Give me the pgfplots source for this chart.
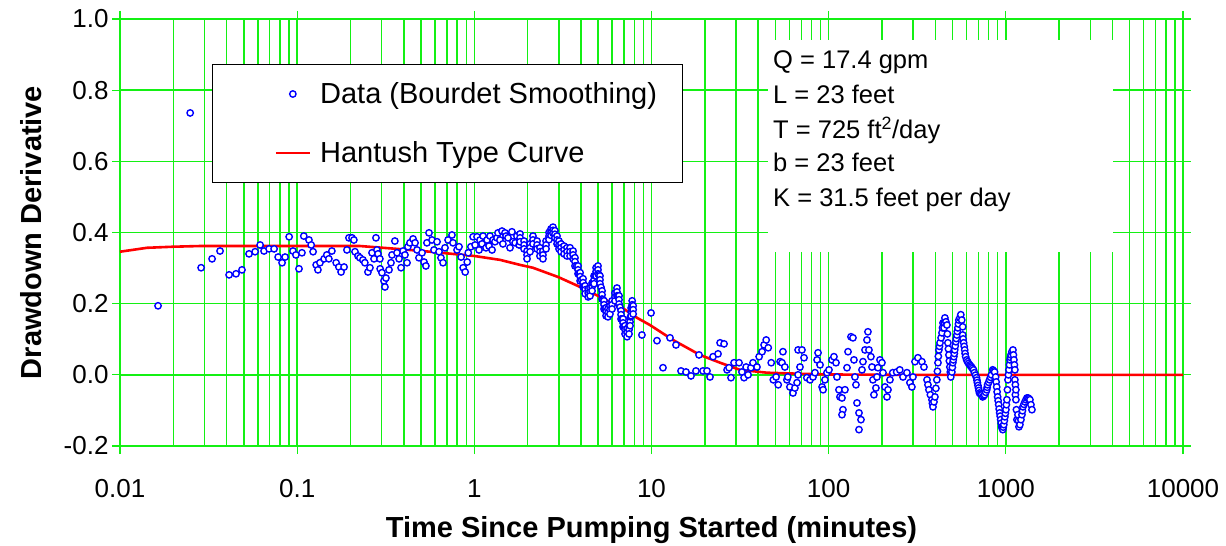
\documentclass[border=0pt]{standalone}
\usepackage{fontspec}
\setmainfont{Liberation Sans}
\usepackage{pgfplots}
\pgfplotsset{compat=1.18}
\usepackage{pgfplotstable}
\definecolor{gridgreen}{RGB}{20,240,20}
\definecolor{myblue}{RGB}{0,0,255}
\pgfplotstableread{
t v
0.0164 0.194
0.0249 0.736
0.0287 0.301
0.0331 0.326
0.0367 0.348
0.0413 0.281
0.0452 0.284
0.0488 0.295
0.0535 0.340
0.0579 0.346
0.0618 0.365
0.0650 0.348
0.0694 0.354
0.0741 0.354
0.0781 0.331
0.0822 0.315
0.0855 0.331
0.0901 0.388
0.0947 0.348
0.0984 0.337
0.1024 0.298
0.1064 0.343
0.109 0.390
0.1166 0.379
0.120 0.365
0.123 0.346
0.128 0.309
0.131 0.295
0.1345 0.315
0.142 0.326
0.147 0.337
0.151 0.326
0.157 0.348
0.166 0.315
0.172 0.303
0.177 0.289
0.184 0.303
0.191 0.351
0.196 0.385
0.204 0.385
0.209 0.379
0.212 0.346
0.2205 0.334
0.226 0.329
0.235 0.323
0.241 0.315
0.251 0.289
0.2575 0.301
0.2645 0.343
0.2715 0.326
0.2785 0.385
0.282 0.351
0.286 0.340
0.293 0.326
0.294 0.298
0.301 0.287
0.309 0.264
0.313 0.247
0.317 0.272
0.330 0.295
0.3385 0.315
0.343 0.337
0.356 0.376
0.366 0.343
0.376 0.326
0.386 0.301
0.396 0.348
0.406 0.337
0.417 0.315
0.422 0.360
0.433 0.371
0.451 0.382
0.463 0.371
0.475 0.351
0.487 0.329
0.507 0.343
0.520 0.317
0.533 0.306
0.540 0.371
0.555 0.399
0.577 0.379
0.592 0.351
0.616 0.374
0.632 0.346
0.648 0.329
0.666 0.315
0.683 0.357
0.711 0.379
0.748 0.393
0.758 0.371
0.799 0.351
0.820 0.360
0.842 0.331
0.865 0.301
0.888 0.289
0.912 0.317
0.924 0.343
0.956 0.360
0.984 0.388
1.010 0.365
1.036 0.388
1.063 0.351
1.077 0.379
1.105 0.368
1.12 0.390
1.164 0.357
1.18 0.379
1.21 0.362
1.226 0.390
1.259 0.351
1.275 0.379
1.307 0.374
1.342 0.385
1.36 0.399
1.395 0.379
1.433 0.404
1.45 0.368
1.49 0.399
1.51 0.390
1.55 0.385
1.59 0.357
1.63 0.402
1.65 0.374
1.70 0.371
1.74 0.390
1.79 0.365
1.811 0.396
1.811 0.385
1.811 0.374
1.908 0.376
1.908 0.365
1.908 0.354
1.984 0.348
1.984 0.337
1.984 0.326
2.063 0.368
2.063 0.357
2.063 0.346
2.143 0.390
2.143 0.379
2.143 0.368
2.26 0.376
2.26 0.365
2.26 0.354
2.347 0.357
2.347 0.346
2.347 0.334
2.44 0.348
2.44 0.337
2.44 0.326
2.54 0.376
2.54 0.365
2.54 0.354
2.64 0.400
2.64 0.390
2.64 0.380
2.71 0.410
2.71 0.401
2.71 0.392
2.78 0.415
2.78 0.406
2.78 0.398
2.85 0.405
2.85 0.395
2.85 0.385
2.93 0.390
2.93 0.379
2.93 0.368
3.005 0.376
3.005 0.365
3.005 0.354
3.085 0.368
3.085 0.357
3.085 0.346
3.21 0.362
3.21 0.351
3.21 0.340
3.335 0.357
3.335 0.346
3.335 0.334
3.47 0.357
3.47 0.346
3.47 0.334
3.61 0.348
3.61 0.337
3.61 0.326
3.70 0.329
3.70 0.318
3.70 0.306
3.78 0.306
3.85 0.306
3.85 0.295
3.85 0.284
3.90 0.285
3.955 0.287
3.955 0.276
3.955 0.264
4.03 0.267
4.11 0.270
4.11 0.259
4.11 0.247
4.17 0.249
4.22 0.250
4.22 0.239
4.22 0.228
4.39 0.242
4.39 0.230
4.39 0.219
4.50 0.244
4.50 0.233
4.50 0.222
4.62 0.258
4.62 0.247
4.62 0.236
4.68 0.257
4.74 0.278
4.74 0.267
4.74 0.256
4.80 0.278
4.865 0.301
4.865 0.290
4.865 0.278
4.99 0.306
4.99 0.295
4.99 0.284
5.05 0.281
5.12 0.278
5.12 0.267
5.12 0.256
5.19 0.246
5.26 0.236
5.26 0.225
5.26 0.213
5.33 0.211
5.395 0.208
5.395 0.197
5.395 0.185
5.47 0.187
5.54 0.188
5.54 0.177
5.54 0.166
5.68 0.185
5.68 0.174
5.68 0.163
5.83 0.194
5.83 0.183
5.83 0.171
5.99 0.208
5.99 0.197
5.99 0.185
6.22 0.230
6.22 0.219
6.22 0.208
6.385 0.244
6.385 0.233
6.385 0.222
6.47 0.222
6.56 0.222
6.56 0.211
6.56 0.199
6.64 0.190
6.73 0.180
6.73 0.169
6.73 0.157
6.82 0.157
6.91 0.157
6.91 0.146
6.91 0.135
7.0 0.136
7.09 0.138
7.09 0.127
7.09 0.115
7.28 0.129
7.28 0.118
7.28 0.107
7.47 0.138
7.47 0.127
7.47 0.115
7.57 0.160
7.57 0.149
7.57 0.138
7.62 0.163
7.675 0.188
7.675 0.177
7.675 0.166
7.73 0.187
7.78 0.208
7.78 0.197
7.78 0.185
7.88 0.194
7.88 0.183
7.88 0.171
8.83 0.112
9.94 0.174
10.74 0.096
11.61 0.020
12.72 0.104
13.75 0.084
14.67 0.011
15.66 0.008
16.71 -0.003
17.82 0.011
18.54 0.056
19.53 0.011
20.57 0.011
21.39 -0.006
22.26 0.051
23.74 0.059
24.38 0.090
25.68 0.087
26.70 0.014
27.4 0.020
28.1 -0.008
29.25 0.034
31.2 0.034
32.4 0.008
33.3 -0.008
34.2 0.022
35.1 0.000
36.4 0.020
37.4 0.034
39.4 0.022
40.5 0.051
42.1 0.065
43.2 0.084
44.4 0.098
45.6 0.076
47.4 0.034
48.7 -0.014
50.5 -0.006
51.9 -0.028
53.2 0.037
54.5 0.034
55.2 0.065
56.6 0.022
58.1 -0.014
58.8 -0.006
60.4 -0.034
62.9 -0.051
64.5 -0.037
66.3 -0.022
67.2 0.070
67.2 0.000
68.9 0.022
70.7 0.070
72.6 0.048
75.3 -0.008
78.5 -0.014
81.6 -0.006
83.7 0.006
86.0 0.042
87.1 0.062
89.4 0.028
91.8 -0.034
93.0 -0.042
95.3 -0.014
97.8 0.006
100.4 0.014
104.4 0.042
107.1 0.051
110 0.034
111.4 -0.006
114.3 -0.042
115.8 -0.062
118.9 -0.065
120.4 -0.098
118.9 -0.112
123.6 -0.042
126.9 0.020
128.6 0.065
133.6 0.107
137.1 0.104
138.9 0.042
140.7 -0.006
142.6 -0.028
144.5 -0.079
148.3 -0.107
148.3 -0.154
152.2 -0.126
154.2 0.014
156.2 0.037
160.3 0.070
164.5 0.098
166.6 0.121
168.8 0.070
173.2 0.051
175.5 0.022
177.8 -0.014
180.1 -0.056
184.8 -0.037
187.3 -0.006
189.8 0.020
194.8 0.042
199.9 0.034
202.6 0.006
207.9 -0.034
213.4 -0.062
216.2 -0.042
221.8 -0.014
230 0.006
242 0.008
252 0.014
262.7 -0.006
276.5 0.006
287.5 -0.022
295 -0.034
299 -0.006
307 0.037
319 0.048
336 0.037
345 0.022
359 -0.014
363.5 -0.028
368 -0.042
375 -0.056
383 -0.070
385 -0.080
388 -0.090
393 -0.076
398 -0.062
403 -0.038
408 -0.014
411 0.010
414 0.034
416 0.052
419 0.070
422 0.080
425 0.090
431 0.104
436 0.118
439 0.132
442 0.146
448 0.132
450 0.146
453 0.160
459 0.149
465 0.140
468 0.115
471 0.090
474 0.073
477 0.056
480 0.039
483 0.022
486 0.008
489 -0.006
496 0.008
499 0.021
502 0.034
505 0.042
509 0.051
512 0.060
515 0.070
518 0.081
522 0.093
525 0.102
529 0.112
532 0.122
536 0.132
540 0.143
543 0.154
550 0.160
557 0.169
564 0.154
571 0.135
571 0.112
574 0.101
578 0.090
582 0.080
586 0.070
589 0.060
593 0.051
601 0.042
608 0.037
616 0.032
625 0.028
632 0.025
640 0.022
648 0.018
657 0.014
665 0.006
674 -0.001
683 -0.008
687 -0.015
691 -0.022
696 -0.030
701 -0.037
705 -0.044
710 -0.051
720 -0.054
730 -0.056
740 -0.062
750 -0.059
759 -0.056
770 -0.049
780 -0.042
785 -0.035
789 -0.028
800 -0.021
810 -0.014
820 -0.007
830 0.000
843 0.014
853 0.011
864 0.008
876 -0.006
882 -0.020
888 -0.034
893 -0.048
899 -0.062
905 -0.073
911 -0.084
917 -0.096
923 -0.107
929 -0.116
935 -0.126
941 -0.136
948 -0.146
954 -0.150
961 -0.154
967 -0.147
974 -0.140
981 -0.129
988 -0.118
994 -0.108
1001 -0.098
1007 -0.084
1014 -0.070
1021 -0.042
1028 -0.014
1034 0.000
1041 0.014
1048 0.028
1055 0.042
1062 0.049
1069 0.056
1082 0.065
1097 0.070
1104 0.056
1111 0.042
1118 0.028
1125 0.014
1125 -0.014
1132 -0.028
1132 -0.056
1140 -0.070
1140 -0.042
1147 -0.098
1155 -0.126
1170 -0.112
1178 -0.129
1186 -0.146
1201 -0.140
1217 -0.126
1233 -0.112
1241 -0.101
1249 -0.090
1265 -0.083
1282 -0.076
1299 -0.070
1316 -0.065
1333 -0.065
1350 -0.067
1368 -0.070
1386 -0.084
1404 -0.098
}\datatab
\pgfplotstableread{
t v
0.01 0.346
0.0142 0.357
0.0199 0.360
0.0283 0.362
0.0542 0.362
0.1034 0.362
0.226 0.362
0.366 0.354
0.562 0.346
1.0 0.334
1.40 0.323
1.81 0.309
2.14 0.301
2.97 0.275
3.955 0.247
5.12 0.219
7.09 0.183
8.30 0.160
9.80 0.140
13.22 0.098
18.77 0.056
24.4 0.034
31.6 0.014
44.9 0.006
68.9 0.003
100 0.001
252 0.0
10000 0.0
}\hantush
\begin{document}
\begin{tikzpicture}
\begin{axis}[
  name=ax,
  scale only axis, width=1063bp, height=427bp,
  xmode=log, xmin=0.01, xmax=10000, ymin=-0.2, ymax=1.0,
  xtick={0.01,0.1,1,10,100,1000,10000},
  xticklabels={0.01,0.1,1,10,100,1000,10000},
  minor xtick={},
  extra x ticks={0.02,0.03,0.04,0.05,0.06,0.07,0.08,0.09,
                 0.2,0.3,0.4,0.5,0.6,0.7,0.8,0.9,
                 2,3,4,5,6,7,8,9,
                 20,30,40,50,60,70,80,90,
                 200,300,400,500,600,700,800,900,
                 2000,3000,4000,5000,6000,7000,8000,9000},
  extra x tick labels={},
  extra x tick style={major tick length=0bp, xmajorgrids=true},
  ytick={-0.2,0,0.2,0.4,0.6,0.8,1.0},
  y tick label style={/pgf/number format/.cd, fixed, fixed zerofill, precision=1, assume math mode=true},
  tick label style={font=\fontsize{26bp}{30bp}\selectfont},
  x tick label style={yshift=-22bp},
  xmajorgrids, xminorgrids=false, ymajorgrids,
  major grid style={draw=gridgreen, line width=1.4bp},
  axis line style={gridgreen, line width=1.4bp},
  tick style={gridgreen, line width=1.2bp},
  tick align=outside, major tick length=8bp, minor tick length=0bp,
  xlabel={Time Since Pumping Started (minutes)},
  ylabel={Drawdown Derivative},
  label style={font=\bfseries\fontsize{29bp}{34bp}\selectfont},
  xlabel style={at={(axis description cs:0.5,-0.197)}, anchor=center},
  ylabel style={at={(axis description cs:-0.0837,0.5)}, anchor=center},
  legend style={at={(0.0866,0.8946)}, anchor=north west, draw=black, line width=1bp, fill=white,
    inner xsep=25bp, inner ysep=15bp, row sep=30bp, column sep=9bp,
    font=\fontsize{29bp}{34bp}\selectfont,
    nodes={inner sep=0pt, text height=24bp, text depth=5bp}},
  legend cell align=left,
  legend image code/.code={\path (0bp,0bp); \draw[mark repeat=2,mark phase=2,#1] plot coordinates {(37bp,0bp)(54bp,0bp)(71bp,0bp)};},
]
\addplot[only marks, mark=*, mark size=3.2bp, mark options={draw=myblue, fill=white, line width=1.4bp}] table[x=t,y=v]{\datatab};
\addplot[red, line width=2.6bp, no marks] table[x=t,y=v]{\hantush};
\legend{Data (Bourdet Smoothing), Hantush Type Curve}
\node[anchor=north west, fill=white, inner sep=0pt, minimum width=345bp, minimum height=212bp] at (rel axis cs:0.6096,0.951) {};
\node[anchor=base west, inner sep=0pt, font=\fontsize{25.5bp}{30bp}\selectfont] at (rel axis cs:0.6143,0.883) {Q = 17.4 gpm};
\node[anchor=base west, inner sep=0pt, font=\fontsize{25.5bp}{30bp}\selectfont] at (rel axis cs:0.6143,0.803) {L = 23 feet};
\node[anchor=base west, inner sep=0pt, font=\fontsize{25.5bp}{30bp}\selectfont] at (rel axis cs:0.6143,0.721) {T = 725 ft\textsuperscript{2}/day};
\node[anchor=base west, inner sep=0pt, font=\fontsize{25.5bp}{30bp}\selectfont] at (rel axis cs:0.6143,0.642) {b = 23 feet};
\node[anchor=base west, inner sep=0pt, font=\fontsize{25.5bp}{30bp}\selectfont] at (rel axis cs:0.6143,0.562) {K = 31.5 feet per day};
\end{axis}
\pgfresetboundingbox
\path ([xshift=-120bp,yshift=-100bp]ax.south west) rectangle ([xshift=43bp,yshift=19bp]ax.north east);
\end{tikzpicture}
\end{document}
